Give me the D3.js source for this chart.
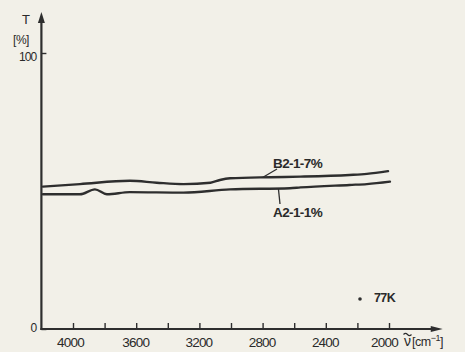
<!DOCTYPE html>
<html><head><meta charset="utf-8">
<script src="https://cdn.jsdelivr.net/npm/d3@7/dist/d3.min.js"></script>
<style>
html,body{margin:0;padding:0;background:#f2f0e8;}
svg{display:block;}
text{font-family:"Liberation Sans",Arial,sans-serif;fill:#2a2a2a;}
</style></head>
<body>
<svg id="c" width="465" height="352"></svg>
<script>
// data (wavenumber in cm^-1, transmission T in %)
const waveB = [4190, 3956, 3640, 3470, 3300, 3130, 3070, 3006, 2750, 2560, 2250, 2140, 2006];
const transB = [51.6, 52.5, 53.7, 53.0, 52.5, 53.0, 54.0, 54.6, 55.0, 55.2, 55.8, 56.2, 57.2];
const waveA = [4190, 3956, 3861, 3785, 3640, 3300, 3006, 2627, 2560, 2250, 2140, 1994];
const transA = [48.8, 48.8, 50.6, 48.8, 49.6, 49.4, 50.6, 51.0, 51.3, 52.2, 52.5, 53.4];
const xTicks = [4000, 3800, 3600, 3400, 3200, 3000, 2800, 2600, 2400, 2200, 2000];
const xTickLabels = [4000, 3600, 3200, 2800, 2400, 2000];
const yTicks = [0, 100];
const seriesNames = ["B2-1-7%", "A2-1-1%"];

const ink = "#2e2e2e";
const svg = d3.select("#c");
const x = d3.scaleLinear().domain([4000, 2000]).range([73, 389]);
const y = d3.scaleLinear().domain([0, 100]).range([329, 53]);
const x0 = x(4200), xEnd = x(1660), y0 = y(0), yTop = 12;

// x axis
const gx = svg.append("g").attr("transform", `translate(0,${y0})`)
  .call(d3.axisBottom(x).tickValues(xTicks).tickSize(-6).tickPadding(8)
    .tickFormat(d => xTickLabels.includes(d) ? d : ""));
gx.select(".domain").remove();
gx.selectAll(".tick line").attr("stroke", ink).attr("stroke-width", 1.4);
gx.selectAll(".tick text").attr("font-size", 13.5).attr("fill", ink).attr("letter-spacing", -0.8)
  .attr("dx", d => d === 2000 ? -5 : (d === 4000 ? -3 : -1));

// y axis
const gy = svg.append("g").attr("transform", `translate(${x0},0)`)
  .call(d3.axisLeft(y).tickValues(yTicks).tickSize(-5).tickPadding(5));
gy.select(".domain").remove();
gy.selectAll(".tick line").attr("stroke", ink).attr("stroke-width", 1.4);
gy.selectAll(".tick text").attr("font-size", 12).attr("fill", ink).attr("letter-spacing", -0.9)
  .attr("dy", d => d === 100 ? "0.6em" : "0.2em");

// axis lines with arrows
svg.append("line").attr("x1", x0).attr("y1", y0 + 1).attr("x2", x0).attr("y2", yTop + 6)
  .attr("stroke", ink).attr("stroke-width", 2.2);
svg.append("path").attr("d", `M${x0},${yTop} L${x0 - 3.5},${yTop + 11} L${x0 + 3.5},${yTop + 11} Z`).attr("fill", ink);
svg.append("line").attr("x1", x0 - 1).attr("y1", y0).attr("x2", xEnd - 6).attr("y2", y0)
  .attr("stroke", ink).attr("stroke-width", 2.2);
svg.append("path").attr("d", `M${xEnd},${y0} L${xEnd - 12},${y0 - 3} L${xEnd - 12},${y0 + 3} Z`).attr("fill", ink);

// axis titles
svg.append("text").attr("x", 26).attr("y", 24).attr("text-anchor", "middle").attr("font-size", 13).text("T");
svg.append("text").attr("x", 21).attr("y", 44).attr("text-anchor", "middle").attr("font-size", 12).attr("letter-spacing", -0.5).text("[%]");
svg.append("text").attr("x", 404).attr("y", 346).attr("font-size", 14).text("ν");
svg.append("path").attr("d", "M403.5,334.5 q2,-2.2 4,0 t4,0").attr("fill", "none")
  .attr("stroke", ink).attr("stroke-width", 1.2);
const xt = svg.append("text").attr("x", 412).attr("y", 346).attr("font-size", 12.5).attr("letter-spacing", -0.5);
xt.append("tspan").text("[cm");
xt.append("tspan").attr("dy", -5).attr("font-size", 9).text("−1");
xt.append("tspan").attr("dy", 5).text("]");

// curves
const line = d3.line().x(d => x(d[0])).y(d => y(d[1])).curve(d3.curveMonotoneX);
const dataB = waveB.map((w, i) => [w, transB[i]]);
const dataA = waveA.map((w, i) => [w, transA[i]]);
[dataB, dataA].forEach(d => {
  svg.append("path").datum(d).attr("d", line).attr("fill", "none")
    .attr("stroke", ink).attr("stroke-width", 2.4).attr("stroke-linecap", "round");
});

// series labels with leader lines
svg.append("line").attr("x1", x(2800)).attr("y1", y(54.9)).attr("x2", 277).attr("y2", 169)
  .attr("stroke", ink).attr("stroke-width", 1.3);
svg.append("text").attr("x", 273).attr("y", 168).attr("font-size", 13.5).attr("font-weight", "bold")
  .attr("letter-spacing", -0.6).text(seriesNames[0]);
svg.append("line").attr("x1", x(2700)).attr("y1", y(50.9)).attr("x2", 280).attr("y2", 204)
  .attr("stroke", ink).attr("stroke-width", 1.3);
svg.append("text").attr("x", 273).attr("y", 217).attr("font-size", 13.5).attr("font-weight", "bold")
  .attr("letter-spacing", -0.6).text(seriesNames[1]);

// temperature note
svg.append("circle").attr("cx", 360).attr("cy", 299).attr("r", 1.8).attr("fill", ink);
svg.append("text").attr("x", 374).attr("y", 302).attr("font-size", 12.5).attr("font-weight", "bold")
  .attr("letter-spacing", -0.6).text("77K");
</script>
</body></html>
